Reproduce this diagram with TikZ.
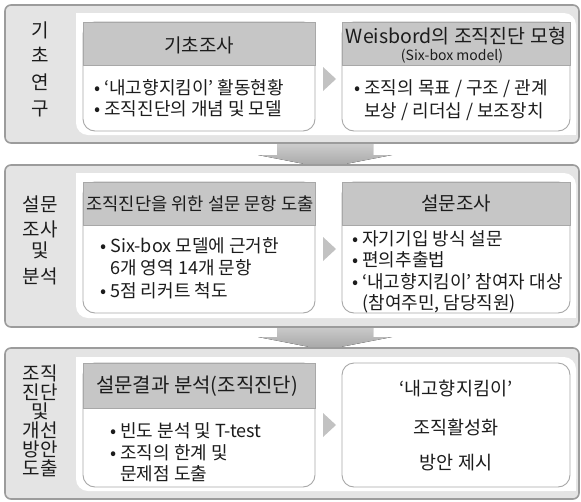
\documentclass[tikz,border=0pt]{standalone}
\usepackage{fontspec}
\setmainfont{Noto Sans CJK KR}
\definecolor{panelfill}{HTML}{E4E4E4}
\definecolor{panelline}{HTML}{9C9C9C}
\definecolor{headfill}{HTML}{C6C6C6}
\definecolor{boxline}{HTML}{A8A8A8}
\definecolor{trifill}{HTML}{C2C2C2}
\definecolor{arrtop}{HTML}{D6D6D6}
\definecolor{arrbot}{HTML}{A4A4A4}
\definecolor{txt}{HTML}{1C1C1C}
\tikzset{
  panel/.style={draw=panelline, line width=1.6pt, fill=panelfill, rounded corners=6pt},
  innerarea/.style={fill=white},
  boxbody/.style={draw=boxline, line width=0.9pt, fill=white, rounded corners=12pt},
  boxhead/.style={draw=boxline, line width=0.9pt, fill=headfill},
  trimark/.style={fill=trifill},
  downarrow/.style={top color=arrtop, bottom color=arrbot},
  hd/.style={inner sep=0pt, anchor=base, text=txt, font=\fontsize{19}{21}\selectfont},
  sm/.style={inner sep=0pt, anchor=base, text=txt, font=\fontsize{14}{16}\selectfont},
  bd/.style={inner sep=0pt, anchor=base west, text=txt, font=\fontsize{18}{20}\selectfont},
  ctr/.style={inner sep=0pt, anchor=base, text=txt, font=\fontsize{18.5}{20}\selectfont},
  lb/.style={inner sep=0pt, anchor=base, text=txt, font=\fontsize{19}{21}\selectfont},
}
\newcommand{\whitearea}[2]{%
  \fill[innerarea, rounded corners=12pt] (76,#1) rectangle (576,#2);
  \fill[innerarea] (76,#1) rectangle (96,#1+20);
  \fill[innerarea] (556,#2-20) rectangle (576,#2);
}
\begin{document}
\begin{tikzpicture}[x=1pt, y=-1pt]
\useasboundingbox (0,0) rectangle (581,501);

% big down arrows (behind panels)
\fill[downarrow] (277,138) -- (373,138) -- (373,155) -- (392,155) -- (325,168) -- (258,155) -- (277,155) -- cycle;
\fill[downarrow] (277,320) -- (373,320) -- (373,337) -- (392,337) -- (325,350) -- (258,337) -- (277,337) -- cycle;

% ---------------- panel 1
\draw[panel] (5,5) rectangle (579,143);
\whitearea{13}{135}
\draw[boxbody] (83,22) rectangle (315,131);
\draw[boxhead] (83,22) rectangle (315,65);
\draw[boxbody] (342,22) rectangle (570,131);
\draw[boxhead] (342,22) rectangle (570,65);
\fill[trimark] (323,67) -- (336,79) -- (323,91) -- cycle;

\node[lb] (l1a) at (40,37) {기};
\node[lb] (l1b) at (40,62) {초};
\node[lb] (l1c) at (40,89) {연};
\node[lb] (l1d) at (40,115) {구};

\node[hd] (h1l) at (199,52) {기초조사};
\node[bd] (b1la) at (94,94) {• ‘내고향지킴이’ 활동현황};
\node[bd] (b1lb) at (94,115) {• 조직진단의 개념 및 모델};

\node[hd, font=\fontsize{19.5}{21}\selectfont] (h1r) at (456,43) {Weisbord의 조직진단 모형};
\node[sm] (h1rs) at (452,60.5) {(Six-box model)};
\node[bd] (b1ra) at (354,94) {• 조직의 목표 / 구조 / 관계};
\node[bd] (b1rb) at (354,117) {\phantom{• }보상 / 리더십 / 보조장치};

% ---------------- panel 2
\draw[panel] (5,165) rectangle (579,327);
\whitearea{173}{318}
\draw[boxbody] (83,182) rectangle (315,313);
\draw[boxhead] (83,182) rectangle (315,225);
\draw[boxbody] (342,182) rectangle (570,313);
\draw[boxhead] (342,182) rectangle (570,225);
\fill[trimark] (323,237) -- (336,249) -- (323,261) -- cycle;

\node[lb] (l2a) at (40,211) {설문};
\node[lb] (l2b) at (40,236) {조사};
\node[lb] (l2c) at (40,257) {및};
\node[lb] (l2d) at (40,283) {분석};

\node[hd, font=\fontsize{17.7}{20}\selectfont] (h2l) at (200,210) {조직진단을 위한 설문 문항 도출};
\node[bd] (b2la) at (100,252) {• Six-box 모델에 근거한};
\node[bd] (b2lb) at (100,274) {\phantom{• }6개 영역 14개 문항};
\node[bd] (b2lc) at (100,297) {• 5점 리커트 척도};

\node[hd] (h2r) at (456,210) {설문조사};
\node[bd] (b2ra) at (352,245) {• 자기기입 방식 설문};
\node[bd] (b2rb) at (352,266) {• 편의추출법};
\node[bd] (b2rc) at (352,288) {• ‘내고향지킴이’ 참여자 대상};
\node[bd] (b2rd) at (352,309) {\phantom{• }(참여주민, 담당직원)};

% ---------------- panel 3
\draw[panel] (5,348) rectangle (579,499);
\whitearea{357}{491}
\draw[boxbody] (83,363) rectangle (315,487);
\draw[boxhead] (83,363) rectangle (315,408);
\draw[boxbody] (342,363) rectangle (570,487);
\fill[trimark] (323,413) -- (336,425) -- (323,437) -- cycle;

\node[lb] (l3a) at (40,380) {조직};
\node[lb] (l3b) at (40,399) {진단};
\node[lb] (l3c) at (40,418) {및};
\node[lb] (l3d) at (40,437) {개선};
\node[lb] (l3e) at (40,456) {방안};
\node[lb] (l3f) at (40,475) {도출};

\node[hd, font=\fontsize{20}{22}\selectfont] (h3l) at (197,392) {설문결과 분석(조직진단)};
\node[bd] (b3la) at (110,437) {• 빈도 분석 및 T-test};
\node[bd] (b3lb) at (110,459) {• 조직의 한계 및};
\node[bd] (b3lc) at (110,480) {\phantom{• }문제점 도출};

\node[ctr] (r3a) at (456,395) {‘내고향지킴이’};
\node[ctr] (r3b) at (456,434) {조직활성화};
\node[ctr] (r3c) at (456,469) {방안 제시};
\end{tikzpicture}
\end{document}
